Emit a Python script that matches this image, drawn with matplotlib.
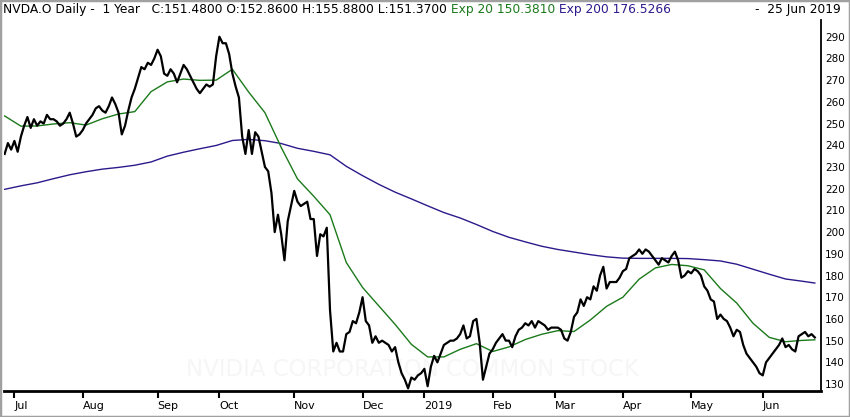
import matplotlib
matplotlib.use("Agg")
import matplotlib.pyplot as plt
from matplotlib.patches import Rectangle
import numpy as np

# daily closes, one list per month
close_jun18 = [236, 241, 238]
close_jul18 = [242, 237, 244, 249, 253, 248, 252, 249, 251, 250, 254, 252, 252, 251, 249,
               250, 252, 255, 250, 244, 245]
close_aug18 = [247, 250, 252, 254, 257, 258, 256, 255, 258, 262, 259, 255, 245, 249, 256,
               262, 266, 271, 276, 275, 278, 277, 280]
close_sep18 = [284, 281, 273, 272, 275, 273, 269, 273, 277, 275, 272, 269, 266, 264, 266,
               268, 267, 268, 281]
close_oct18 = [290, 287, 287, 282, 273, 267, 262, 244, 236, 247, 236, 246, 244, 237, 230,
               228, 218, 200, 208, 199, 187, 205, 212]
close_nov18 = [219, 214, 212, 213, 214, 206, 206, 189, 199, 198, 202, 164, 145, 149, 145,
               145, 153, 154, 159, 158, 163]
close_dec18 = [170, 159, 157, 149, 152, 149, 150, 149, 148, 145, 147, 140, 135, 132, 128,
               133, 132, 134, 135]
close_jan19 = [137, 129, 138, 143, 140, 144, 148, 149, 150, 150, 151, 153, 157, 151, 152,
               159, 160, 149, 132, 138, 144]
close_feb19 = [146, 149, 151, 153, 150, 150, 147, 152, 155, 156, 158, 157, 159, 156, 159,
               158, 157, 155, 156]
close_mar19 = [156, 156, 155, 151, 150, 154, 161, 163, 169, 166, 170, 169, 175, 173, 180,
               184, 174, 177, 177, 177, 179]
close_apr19 = [182, 183, 188, 189, 190, 192, 190, 192, 191, 189, 187, 185, 188, 187, 186,
               189, 191, 187, 179, 180, 182]
close_may19 = [181, 183, 182, 180, 175, 173, 169, 168, 160, 162, 160, 159, 156, 152, 155,
               154, 148, 144, 142, 140, 138, 135]
close_jun19 = [134, 140, 142, 144, 146, 148, 151, 147, 148, 146, 145, 152, 153, 154, 152,
               153, 151.48]

month_labels = ["Jul", "Aug", "Sep", "Oct", "Nov", "Dec", "2019", "Feb", "Mar", "Apr", "May", "Jun"]

# moving averages, sampled every 5th trading day (plus the last day)
ema_step = 5
ema20 = [253.5, 248.8, 248.9, 249.8, 250.4, 249.3, 252.2, 254.4, 255.5, 264.7,
         269.2, 270.5, 269.9, 270.0, 275.0, 264.5, 255.0, 239.0, 224.5, 216.5,
         208.0, 186.0, 174.5, 166.0, 157.5, 148.3, 142.5, 142.5, 146.0, 148.6,
         145.0, 147.1, 150.5, 152.9, 154.6, 154.2, 159.5, 165.8, 170.0, 178.3,
         183.5, 185.1, 184.5, 182.6, 174.0, 167.3, 158.0, 151.5, 149.5, 150.1,
         150.38]
ema200 = [219.7, 221.3, 222.7, 224.6, 226.4, 227.8, 229.0, 229.8, 230.8, 232.3,
          235.0, 236.8, 238.4, 239.9, 242.2, 242.7, 242.1, 240.8, 238.6, 237.2,
          235.6, 230.3, 226.0, 222.0, 218.4, 215.3, 212.1, 209.0, 206.5, 203.5,
          200.3, 197.6, 195.5, 193.5, 192.0, 190.8, 189.6, 188.6, 188.0, 187.9,
          187.9, 187.9, 187.8, 187.3, 186.7, 185.2, 182.9, 180.6, 178.4, 177.4,
          176.53]

months = [close_jul18, close_aug18, close_sep18, close_oct18, close_nov18, close_dec18,
          close_jan19, close_feb19, close_mar19, close_apr19, close_may19, close_jun19]
close = np.array(close_jun18 + sum(months, []), dtype=float)
n = len(close)
x = np.arange(n)

month_pos = np.cumsum([len(close_jun18)] + [len(m) for m in months[:-1]])

ema_x = list(range(0, n - 1, ema_step)) + [n - 1]

GREEN = "#1b7a1b"
PURPLE = "#2c1a8c"

fig = plt.figure(figsize=(8.5, 4.17), dpi=100)
ax = fig.add_axes([4 / 850, 26 / 417, 817 / 850, 371 / 417])

ax.text(0.5, 0.058, "NVIDIA CORPORATION COMMON STOCK", transform=ax.transAxes,
        ha="center", va="center", fontsize=16.5, color="#f6f6f6", zorder=0)

ax.plot(ema_x, ema200, color=PURPLE, lw=1.0, zorder=2)
ax.plot(ema_x, ema20, color=GREEN, lw=1.0, zorder=2)
ax.plot(x, close, color="black", lw=1.6, zorder=3)

ax.set_xlim(-0.2, n + 0.9)
ax.set_ylim(126.8, 297.7)

for s in ["left", "top"]:
    ax.spines[s].set_visible(False)
ax.spines["bottom"].set_linewidth(2)
ax.spines["right"].set_linewidth(1.3)

ax.yaxis.tick_right()
ax.set_yticks(np.arange(130, 291, 10))
ax.tick_params(axis="y", length=0, pad=3, labelsize=7.5)

ax.set_xticks(month_pos)
ax.set_xticklabels(month_labels, ha="left")
ax.tick_params(axis="x", length=5, width=1.5, direction="out", pad=2, labelsize=8)

# header line
t1 = fig.text(3 / 850, 0.978, "NVDA.O Daily -  1 Year   C:151.4800 O:152.8600 H:155.8800 L:151.3700",
              ha="left", va="center", fontsize=8.85, color="black")
t2 = ax.annotate(" Exp 20 150.3810", xy=(1, 0.5), xycoords=t1, ha="left", va="center",
                 fontsize=8.85, color=GREEN, annotation_clip=False)
ax.annotate(" Exp 200 176.5266", xy=(1, 0.5), xycoords=t2, ha="left", va="center",
            fontsize=8.85, color=PURPLE, annotation_clip=False)
fig.text(841 / 850, 0.978, "-  25 Jun 2019", ha="right", va="center", fontsize=8.85, color="black")

fig.patches.append(Rectangle((0, 0), 1, 1, transform=fig.transFigure, fill=False,
                             edgecolor="#a0a0a0", lw=2.5))

fig.savefig("out.png", dpi=100)
